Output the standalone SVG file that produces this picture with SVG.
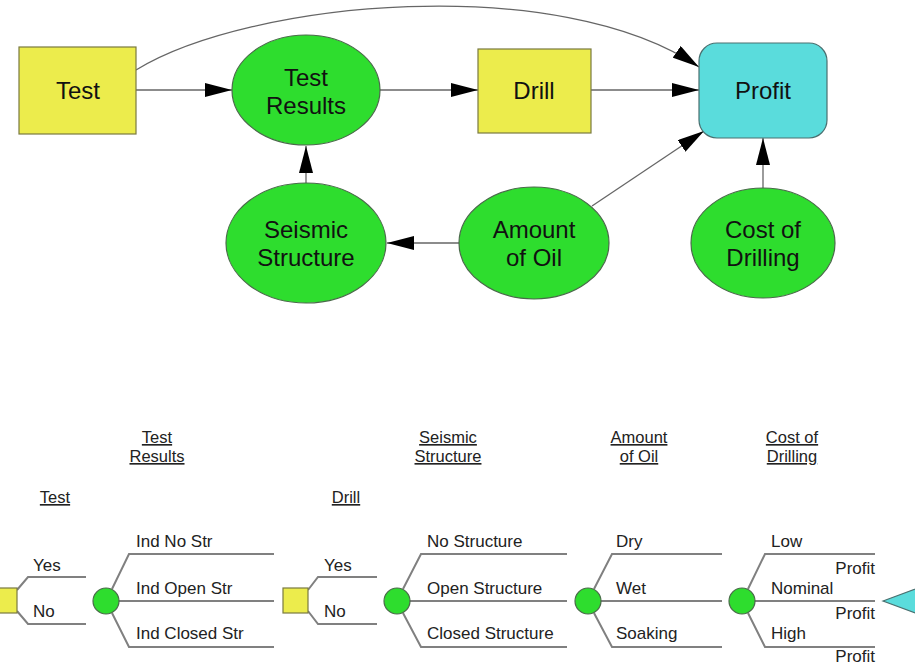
<svg xmlns="http://www.w3.org/2000/svg" width="915" height="667" viewBox="0 0 915 667">
<style>
  .dec { fill: #ECEC4C; stroke: #7a7a40; stroke-width: 1.2; }
  .chance { fill: #2EDD2E; stroke: #4a6a4a; stroke-width: 1.2; }
  .value { fill: #5ADCDC; stroke: #4a7070; stroke-width: 1.2; }
  .lbl { font-family: "Liberation Sans", Arial, sans-serif; font-size: 24px; fill: #111; text-anchor: middle; }
  .conn { fill: none; stroke: #666; stroke-width: 1.3; }
  .br { fill: none; stroke: #808080; stroke-width: 2; }
  .t { font-family: "Liberation Sans", Arial, sans-serif; font-size: 17px; fill: #222; }
  .hd { font-family: "Liberation Sans", Arial, sans-serif; font-size: 16.5px; fill: #222; text-anchor: middle; text-decoration: underline; }
  .tdec { fill: #ECEC4C; stroke: #7a7a40; stroke-width: 1.2; }
  .tch { fill: #2EDD2E; stroke: #4a6a4a; stroke-width: 1.2; }
</style>
<defs>
  <marker id="arr" markerUnits="userSpaceOnUse" markerWidth="28" markerHeight="14" refX="27" refY="7" orient="auto">
    <path d="M0,0 L27,7 L0,14 Z" fill="#000"/>
  </marker>
</defs>
<rect width="915" height="667" fill="#fff"/>

<g id="connectors">
  <path class="conn" d="M136,70 C250,0 560,-28 699,67" marker-end="url(#arr)"/>
  <line class="conn" x1="136" y1="90" x2="232" y2="90" marker-end="url(#arr)"/>
  <line class="conn" x1="380" y1="90" x2="478" y2="90" marker-end="url(#arr)"/>
  <line class="conn" x1="591" y1="90" x2="699" y2="90" marker-end="url(#arr)"/>
  <line class="conn" x1="306" y1="183" x2="306" y2="146" marker-end="url(#arr)"/>
  <line class="conn" x1="459" y1="243" x2="387" y2="243" marker-end="url(#arr)"/>
  <line class="conn" x1="592" y1="206" x2="704" y2="131" marker-end="url(#arr)"/>
  <line class="conn" x1="763" y1="188" x2="763" y2="138" marker-end="url(#arr)"/>
</g>

<g id="node-test">
  <rect class="dec" x="19" y="47" width="117" height="87"/>
  <text class="lbl" x="78" y="99">Test</text>
</g>
<g id="node-test-results">
  <ellipse class="chance" cx="306" cy="90" rx="74" ry="55"/>
  <text class="lbl" x="306" y="86">Test</text>
  <text class="lbl" x="306" y="114">Results</text>
</g>
<g id="node-drill">
  <rect class="dec" x="478" y="49" width="113" height="84"/>
  <text class="lbl" x="534" y="99">Drill</text>
</g>
<g id="node-profit">
  <rect class="value" x="699" y="43" width="128" height="95" rx="18" ry="18"/>
  <text class="lbl" x="763" y="99">Profit</text>
</g>
<g id="node-seismic">
  <ellipse class="chance" cx="306" cy="243" rx="80" ry="60"/>
  <text class="lbl" x="306" y="238">Seismic</text>
  <text class="lbl" x="306" y="266">Structure</text>
</g>
<g id="node-amount">
  <ellipse class="chance" cx="534" cy="243" rx="75" ry="56"/>
  <text class="lbl" x="534" y="238">Amount</text>
  <text class="lbl" x="534" y="266">of Oil</text>
</g>
<g id="node-cost">
  <ellipse class="chance" cx="763" cy="243" rx="72" ry="55"/>
  <text class="lbl" x="763" y="238">Cost of</text>
  <text class="lbl" x="763" y="266">Drilling</text>
</g>

<g id="tree-headers">
  <text class="hd" x="157" y="443">Test</text>
  <text class="hd" x="157" y="462">Results</text>
  <text class="hd" x="55" y="503">Test</text>
  <text class="hd" x="346" y="503">Drill</text>
  <text class="hd" x="448" y="443">Seismic</text>
  <text class="hd" x="448" y="462">Structure</text>
  <text class="hd" x="639" y="443">Amount</text>
  <text class="hd" x="639" y="462">of Oil</text>
  <text class="hd" x="792" y="443">Cost of</text>
  <text class="hd" x="792" y="462">Drilling</text>
</g>

<g id="tree-branches">
  <polyline class="br" points="17,590 28,577 86,577"/>
  <polyline class="br" points="17,611 28,624 86,624"/>
  <polyline class="br" points="112,589 129,554 274,554"/>
  <line class="br" x1="106" y1="601" x2="274" y2="601"/>
  <polyline class="br" points="112,613 129,647 274,647"/>

  <polyline class="br" points="308,590 318,577 377,577"/>
  <polyline class="br" points="308,611 318,624 377,624"/>
  <polyline class="br" points="403,589 421,554 567,554"/>
  <line class="br" x1="397" y1="601" x2="567" y2="601"/>
  <polyline class="br" points="403,613 421,647 567,647"/>

  <polyline class="br" points="594,589 612,554 722,554"/>
  <line class="br" x1="588" y1="601" x2="722" y2="601"/>
  <polyline class="br" points="594,613 612,647 722,647"/>

  <polyline class="br" points="748,589 765,554 875,554"/>
  <line class="br" x1="742" y1="601" x2="875" y2="601"/>
  <polyline class="br" points="748,613 765,647 875,647"/>
</g>

<g id="tree-node-test">
  <rect class="tdec" x="-8" y="588" width="25" height="25"/>
</g>
<g id="tree-node-test-results">
  <circle class="tch" cx="106" cy="601" r="13"/>
</g>
<g id="tree-node-drill">
  <rect class="tdec" x="283" y="588" width="25" height="25"/>
</g>
<g id="tree-node-seismic">
  <circle class="tch" cx="397" cy="601" r="13"/>
</g>
<g id="tree-node-amount">
  <circle class="tch" cx="588" cy="601" r="13"/>
</g>
<g id="tree-node-cost">
  <circle class="tch" cx="742" cy="601" r="13"/>
</g>
<g id="tree-node-profit">
  <polygon class="value" points="883,601 926,585 926,617"/>
</g>

<g id="tree-labels">
  <text class="t" x="33" y="571">Yes</text>
  <text class="t" x="33" y="617">No</text>
  <text class="t" x="136" y="547">Ind No Str</text>
  <text class="t" x="136" y="594">Ind Open Str</text>
  <text class="t" x="136" y="639">Ind Closed Str</text>
  <text class="t" x="324" y="571">Yes</text>
  <text class="t" x="324" y="617">No</text>
  <text class="t" x="427" y="547">No Structure</text>
  <text class="t" x="427" y="594">Open Structure</text>
  <text class="t" x="427" y="639">Closed Structure</text>
  <text class="t" x="616" y="547">Dry</text>
  <text class="t" x="616" y="594">Wet</text>
  <text class="t" x="616" y="639">Soaking</text>
  <text class="t" x="771" y="547">Low</text>
  <text class="t" x="771" y="594">Nominal</text>
  <text class="t" x="771" y="639">High</text>
  <text class="t" x="875" y="574" text-anchor="end">Profit</text>
  <text class="t" x="875" y="619" text-anchor="end">Profit</text>
  <text class="t" x="875" y="662" text-anchor="end">Profit</text>
</g>
</svg>
